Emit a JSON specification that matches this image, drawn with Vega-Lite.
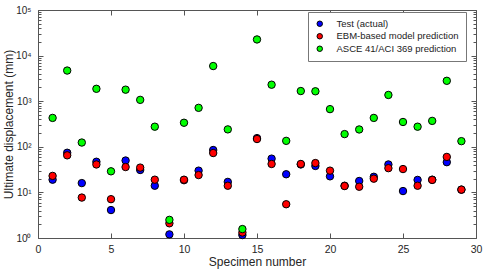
{
  "$schema": "https://vega.github.io/schema/vega-lite/v6.json",
  "width": 438,
  "height": 228,
  "autosize": {"type": "none"},
  "padding": {"left": 38, "top": 10, "right": 9, "bottom": 33},
  "background": "white",
  "config": {
    "view": {"stroke": "#555555", "strokeWidth": 1},
    "font": "Liberation Sans",
    "axis": {
      "labelFont": "Liberation Sans",
      "titleFont": "Liberation Sans",
      "labelColor": "#262626",
      "titleColor": "#262626",
      "tickColor": "#555555",
      "labelFontSize": 10.5,
      "titleFontSize": 12,
      "titleFontWeight": "normal",
      "grid": false,
      "domain": false,
      "labelFlush": false,
      "labelBound": false,
      "labelOverlap": false
    },
    "legend": {
      "orient": "none",
      "legendX": 270,
      "legendY": 2,
      "fillColor": "white",
      "strokeColor": "#777777",
      "padding": 7,
      "labelFont": "Liberation Sans",
      "labelFontSize": 9.5,
      "labelColor": "#222222",
      "symbolType": "circle",
      "symbolSize": 30,
      "symbolStrokeColor": "black",
      "symbolStrokeWidth": 1,
      "symbolOpacity": 1,
      "labelOffset": 12,
      "rowPadding": 1.5,
      "labelLimit": 400
    }
  },
  "data": {
    "values": [
      {"specimen": 1, "series": "Test (actual)", "disp": 19},
      {"specimen": 2, "series": "Test (actual)", "disp": 74},
      {"specimen": 3, "series": "Test (actual)", "disp": 16},
      {"specimen": 4, "series": "Test (actual)", "disp": 47},
      {"specimen": 5, "series": "Test (actual)", "disp": 4.1},
      {"specimen": 6, "series": "Test (actual)", "disp": 50},
      {"specimen": 7, "series": "Test (actual)", "disp": 31},
      {"specimen": 8, "series": "Test (actual)", "disp": 14},
      {"specimen": 9, "series": "Test (actual)", "disp": 1.2},
      {"specimen": 10, "series": "Test (actual)", "disp": 18.5},
      {"specimen": 11, "series": "Test (actual)", "disp": 30},
      {"specimen": 12, "series": "Test (actual)", "disp": 85},
      {"specimen": 13, "series": "Test (actual)", "disp": 17},
      {"specimen": 14, "series": "Test (actual)", "disp": 1.16},
      {"specimen": 15, "series": "Test (actual)", "disp": 155},
      {"specimen": 16, "series": "Test (actual)", "disp": 55},
      {"specimen": 17, "series": "Test (actual)", "disp": 25},
      {"specimen": 18, "series": "Test (actual)", "disp": 41},
      {"specimen": 19, "series": "Test (actual)", "disp": 38},
      {"specimen": 20, "series": "Test (actual)", "disp": 22.5},
      {"specimen": 21, "series": "Test (actual)", "disp": 14},
      {"specimen": 22, "series": "Test (actual)", "disp": 17.8},
      {"specimen": 23, "series": "Test (actual)", "disp": 22},
      {"specimen": 24, "series": "Test (actual)", "disp": 41},
      {"specimen": 25, "series": "Test (actual)", "disp": 10.7},
      {"specimen": 26, "series": "Test (actual)", "disp": 18.8},
      {"specimen": 27, "series": "Test (actual)", "disp": 19},
      {"specimen": 28, "series": "Test (actual)", "disp": 46},
      {"specimen": 29, "series": "Test (actual)", "disp": 11.5},
      {"specimen": 1, "series": "EBM-based model prediction", "disp": 23},
      {"specimen": 2, "series": "EBM-based model prediction", "disp": 65},
      {"specimen": 3, "series": "EBM-based model prediction", "disp": 7.7},
      {"specimen": 4, "series": "EBM-based model prediction", "disp": 41},
      {"specimen": 5, "series": "EBM-based model prediction", "disp": 7.1},
      {"specimen": 6, "series": "EBM-based model prediction", "disp": 36},
      {"specimen": 7, "series": "EBM-based model prediction", "disp": 35},
      {"specimen": 8, "series": "EBM-based model prediction", "disp": 19},
      {"specimen": 9, "series": "EBM-based model prediction", "disp": 2.1},
      {"specimen": 10, "series": "EBM-based model prediction", "disp": 19},
      {"specimen": 11, "series": "EBM-based model prediction", "disp": 24},
      {"specimen": 12, "series": "EBM-based model prediction", "disp": 73},
      {"specimen": 13, "series": "EBM-based model prediction", "disp": 14},
      {"specimen": 14, "series": "EBM-based model prediction", "disp": 1.32},
      {"specimen": 15, "series": "EBM-based model prediction", "disp": 148},
      {"specimen": 16, "series": "EBM-based model prediction", "disp": 42},
      {"specimen": 17, "series": "EBM-based model prediction", "disp": 5.5},
      {"specimen": 18, "series": "EBM-based model prediction", "disp": 42},
      {"specimen": 19, "series": "EBM-based model prediction", "disp": 44},
      {"specimen": 20, "series": "EBM-based model prediction", "disp": 30},
      {"specimen": 21, "series": "EBM-based model prediction", "disp": 13.8},
      {"specimen": 22, "series": "EBM-based model prediction", "disp": 13.3},
      {"specimen": 23, "series": "EBM-based model prediction", "disp": 20},
      {"specimen": 24, "series": "EBM-based model prediction", "disp": 34},
      {"specimen": 25, "series": "EBM-based model prediction", "disp": 32.5},
      {"specimen": 26, "series": "EBM-based model prediction", "disp": 14},
      {"specimen": 27, "series": "EBM-based model prediction", "disp": 18.8},
      {"specimen": 28, "series": "EBM-based model prediction", "disp": 60},
      {"specimen": 29, "series": "EBM-based model prediction", "disp": 11.5},
      {"specimen": 1, "series": "ASCE 41/ACI 369 prediction", "disp": 430},
      {"specimen": 2, "series": "ASCE 41/ACI 369 prediction", "disp": 4700},
      {"specimen": 3, "series": "ASCE 41/ACI 369 prediction", "disp": 124},
      {"specimen": 4, "series": "ASCE 41/ACI 369 prediction", "disp": 1870},
      {"specimen": 5, "series": "ASCE 41/ACI 369 prediction", "disp": 29},
      {"specimen": 6, "series": "ASCE 41/ACI 369 prediction", "disp": 1790},
      {"specimen": 7, "series": "ASCE 41/ACI 369 prediction", "disp": 1070},
      {"specimen": 8, "series": "ASCE 41/ACI 369 prediction", "disp": 276},
      {"specimen": 9, "series": "ASCE 41/ACI 369 prediction", "disp": 2.5},
      {"specimen": 10, "series": "ASCE 41/ACI 369 prediction", "disp": 337},
      {"specimen": 11, "series": "ASCE 41/ACI 369 prediction", "disp": 715},
      {"specimen": 12, "series": "ASCE 41/ACI 369 prediction", "disp": 5900},
      {"specimen": 13, "series": "ASCE 41/ACI 369 prediction", "disp": 241},
      {"specimen": 14, "series": "ASCE 41/ACI 369 prediction", "disp": 1.57},
      {"specimen": 15, "series": "ASCE 41/ACI 369 prediction", "disp": 22600},
      {"specimen": 16, "series": "ASCE 41/ACI 369 prediction", "disp": 2300},
      {"specimen": 17, "series": "ASCE 41/ACI 369 prediction", "disp": 135},
      {"specimen": 18, "series": "ASCE 41/ACI 369 prediction", "disp": 1670},
      {"specimen": 19, "series": "ASCE 41/ACI 369 prediction", "disp": 1650},
      {"specimen": 20, "series": "ASCE 41/ACI 369 prediction", "disp": 670},
      {"specimen": 21, "series": "ASCE 41/ACI 369 prediction", "disp": 190},
      {"specimen": 22, "series": "ASCE 41/ACI 369 prediction", "disp": 240},
      {"specimen": 23, "series": "ASCE 41/ACI 369 prediction", "disp": 430},
      {"specimen": 24, "series": "ASCE 41/ACI 369 prediction", "disp": 1370},
      {"specimen": 25, "series": "ASCE 41/ACI 369 prediction", "disp": 350},
      {"specimen": 26, "series": "ASCE 41/ACI 369 prediction", "disp": 276},
      {"specimen": 27, "series": "ASCE 41/ACI 369 prediction", "disp": 370},
      {"specimen": 28, "series": "ASCE 41/ACI 369 prediction", "disp": 2800},
      {"specimen": 29, "series": "ASCE 41/ACI 369 prediction", "disp": 133}
    ]
  },
  "layer": [
    {
      "transform": [{"filter": "datum.series === 'Test (actual)'"}],
      "mark": {"type": "circle", "size": 55, "opacity": 1, "stroke": "black", "strokeWidth": 1},
      "encoding": {
        "x": {
          "field": "specimen", "type": "quantitative",
          "scale": {"domain": [0, 30], "nice": false, "zero": false},
          "axis": {"orient": "bottom", "values": [0, 5, 10, 15, 20, 25, 30], "tickSize": -5, "labelPadding": 11, "title": "Specimen number", "titlePadding": 2}
        },
        "y": {
          "field": "disp", "type": "quantitative",
          "scale": {"type": "log", "domain": [1, 100000], "nice": false},
          "axis": {
            "orient": "left",
            "values": [1,2,3,4,5,6,7,8,9,10,20,30,40,50,60,70,80,90,100,200,300,400,500,600,700,800,900,1000,2000,3000,4000,5000,6000,7000,8000,9000,10000,20000,30000,40000,50000,60000,70000,80000,90000,100000],
            "labelExpr": "abs(log(datum.value)/LN10 - round(log(datum.value)/LN10)) < 0.001 ? '10' + ['⁰','¹','²','³','⁴','⁵'][round(log(datum.value)/LN10)] : ''",
            "tickSize": {"condition": {"test": "abs(log(datum.value)/LN10 - round(log(datum.value)/LN10)) < 0.001", "value": -5}, "value": -3},
            "labelPadding": 12,
            "labelFontSize": 10,
            "title": "Ultimate displacement (mm)",
            "titleX": -30,
            "titleY": 114,
            "titleBaseline": "middle",
            "titleAlign": "center",
            "titleAngle": -90
          }
        },
        "color": {
          "field": "series", "type": "nominal",
          "scale": {"domain": ["Test (actual)", "EBM-based model prediction", "ASCE 41/ACI 369 prediction"], "range": ["#0000ff", "#ff0000", "#00ff00"]},
          "legend": {
            "title": null,
            "labelExpr": "datum.label + '\u00a0\u00a0\u00a0\u00a0\u00a0\u00a0\u00a0\u00a0\u00a0\u00a0\u00a0'"
          }
        }
      }
    },
    {
      "transform": [{"filter": "datum.series === 'EBM-based model prediction'"}],
      "mark": {"type": "circle", "size": 55, "opacity": 1, "stroke": "black", "strokeWidth": 1},
      "encoding": {
        "x": {
          "field": "specimen", "type": "quantitative",
          "scale": {"domain": [0, 30], "nice": false, "zero": false},
          "axis": {"orient": "top", "values": [0, 5, 10, 15, 20, 25, 30], "tickSize": -5, "labels": false, "title": null}
        },
        "y": {
          "field": "disp", "type": "quantitative",
          "scale": {"type": "log", "domain": [1, 100000], "nice": false},
          "axis": {
            "orient": "right",
            "values": [1,2,3,4,5,6,7,8,9,10,20,30,40,50,60,70,80,90,100,200,300,400,500,600,700,800,900,1000,2000,3000,4000,5000,6000,7000,8000,9000,10000,20000,30000,40000,50000,60000,70000,80000,90000,100000],
            "labels": false,
            "tickSize": {"condition": {"test": "abs(log(datum.value)/LN10 - round(log(datum.value)/LN10)) < 0.001", "value": -5}, "value": -3},
            "title": null
          }
        },
        "color": {"field": "series", "type": "nominal"}
      }
    },
    {
      "transform": [{"filter": "datum.series === 'ASCE 41/ACI 369 prediction'"}],
      "mark": {"type": "circle", "size": 55, "opacity": 1, "stroke": "black", "strokeWidth": 1},
      "encoding": {
        "x": {"field": "specimen", "type": "quantitative", "scale": {"domain": [0, 30], "nice": false, "zero": false}, "axis": null},
        "y": {"field": "disp", "type": "quantitative", "scale": {"type": "log", "domain": [1, 100000], "nice": false}, "axis": null},
        "color": {"field": "series", "type": "nominal"}
      }
    }
  ],
  "resolve": {"axis": {"x": "independent", "y": "independent"}}
}
